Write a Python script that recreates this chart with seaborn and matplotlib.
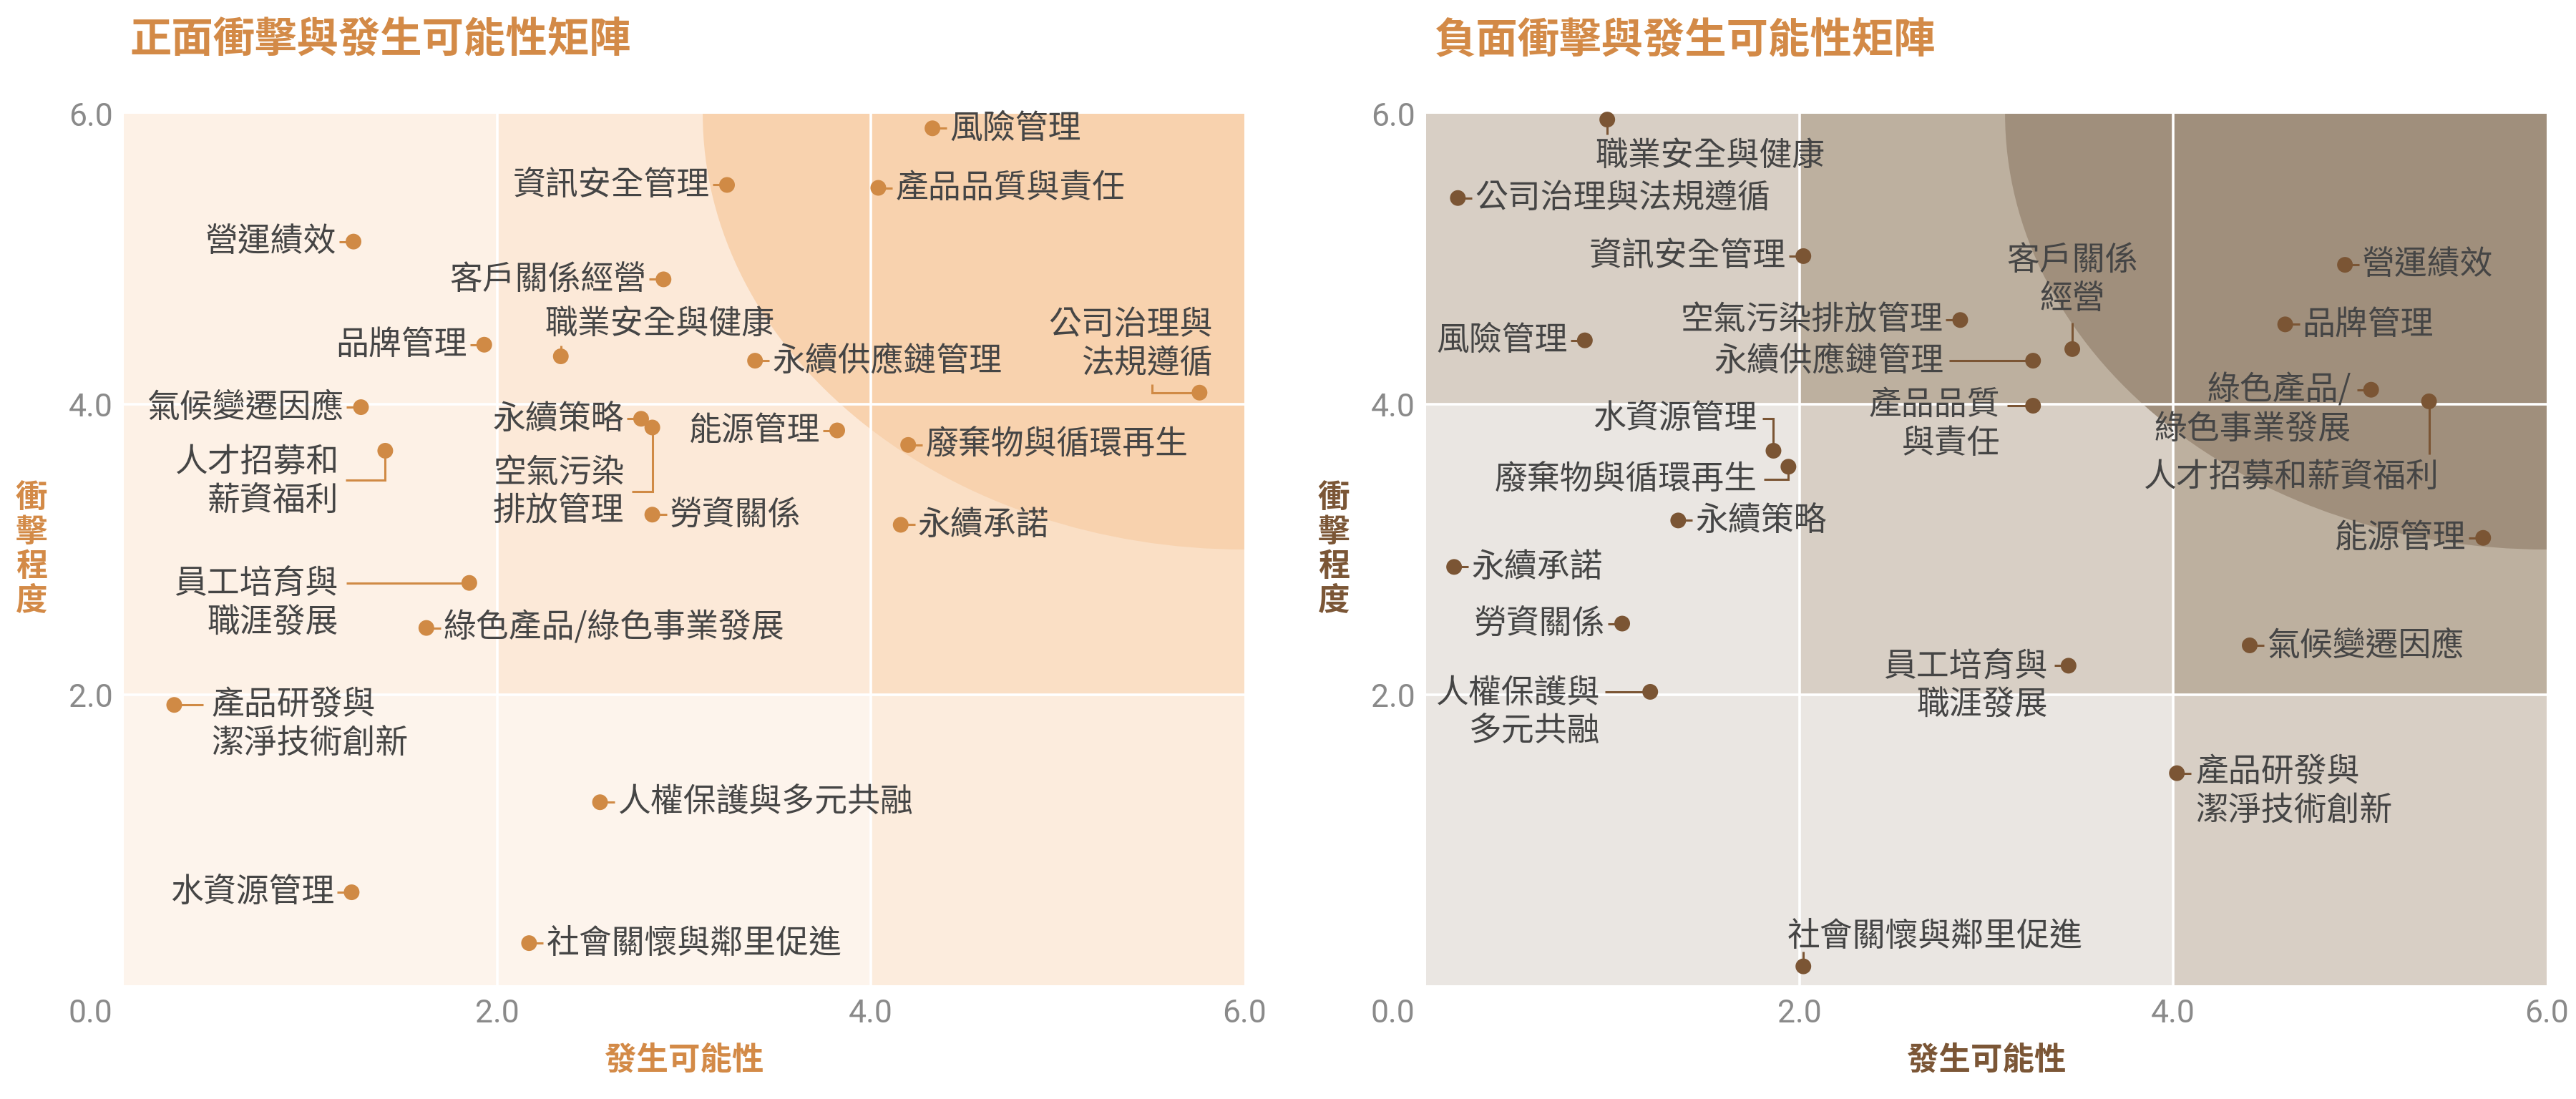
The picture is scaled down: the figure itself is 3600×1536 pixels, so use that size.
import matplotlib
matplotlib.use('Agg')
import matplotlib.pyplot as plt
from matplotlib.patches import Rectangle, Ellipse
import seaborn as sns
import pandas as pd

# ---- data: positive impact matrix ----
pos_topics = ['風險管理', '資訊安全管理', '產品品質與責任', '營運績效', '客戶關係經營',
              '職業安全與健康', '品牌管理', '永續供應鏈管理', '公司治理與法規遵循', '氣候變遷因應',
              '人才招募和薪資福利', '永續策略', '空氣污染排放管理', '能源管理', '廢棄物與循環再生',
              '勞資關係', '永續承諾', '員工培育與職涯發展', '綠色產品/綠色事業發展',
              '產品研發與潔淨技術創新', '人權保護與多元共融', '水資源管理', '社會關懷與鄰里促進']
pos_x = [4.33, 3.23, 4.04, 1.23, 2.89, 2.34, 1.93, 3.38, 5.76, 1.27, 1.40, 2.77, 2.83,
         3.82, 4.20, 2.83, 4.16, 1.85, 1.62, 0.27, 2.55, 1.22, 2.17]
pos_y = [5.90, 5.51, 5.49, 5.12, 4.86, 4.33, 4.41, 4.30, 4.08, 3.98, 3.68, 3.90, 3.84,
         3.82, 3.72, 3.24, 3.17, 2.77, 2.46, 1.93, 1.26, 0.64, 0.29]

# ---- data: negative impact matrix ----
neg_topics = ['職業安全與健康', '公司治理與法規遵循', '資訊安全管理', '客戶關係經營', '空氣污染排放管理',
              '永續供應鏈管理', '風險管理', '營運績效', '品牌管理', '綠色產品/綠色事業發展',
              '人才招募和薪資福利', '產品品質與責任', '水資源管理', '廢棄物與循環再生', '永續策略',
              '永續承諾', '勞資關係', '人權保護與多元共融', '能源管理', '氣候變遷因應',
              '員工培育與職涯發展', '產品研發與潔淨技術創新', '社會關懷與鄰里促進']
neg_x = [0.97, 0.17, 2.02, 3.46, 2.86, 3.25, 0.85, 4.92, 4.60, 5.06, 5.37, 3.25, 1.86,
         1.94, 1.35, 0.15, 1.05, 1.20, 5.66, 4.41, 3.44, 4.02, 2.02]
neg_y = [5.96, 5.42, 5.02, 4.38, 4.58, 4.30, 4.44, 4.96, 4.55, 4.10, 4.02, 3.99, 3.68,
         3.57, 3.20, 2.88, 2.49, 2.02, 3.08, 2.34, 2.20, 1.46, 0.13]

ticks = [2, 4, 6]
tick_labels = ['2.0', '4.0', '6.0']

# ---- label layout (offsets in pixels from the dot, y up) ----
pos_left = ['資訊安全管理', '營運績效', '客戶關係經營', '品牌管理', '氣候變遷因應', '永續策略', '能源管理', '水資源管理']
pos_layout = {
    '職業安全與健康': dict(ha='left', t=(-22, 45), path=[(0, 0), (0, 15)]),
    '公司治理與法規遵循': dict(ha='right', t=(18, 68), path=[(0, 0), (-66, 0), (-66, 12)], brk=5),
    '人才招募和薪資福利': dict(ha='right', t=(-65, -43), path=[(0, 0), (0, -41), (-55, -41)], brk=5),
    '空氣污染排放管理': dict(ha='right', t=(-39, -90), path=[(0, 0), (0, -90), (-29, -90)], brk=4),
    '員工培育與職涯發展': dict(ha='right', t=(-183, -28), path=[(0, 0), (-172, 0)], brk=5),
    '產品研發與潔淨技術創新': dict(ha='left', t=(52, -27), path=[(0, 0), (41, 0)], brk=5),
}
neg_left = ['資訊安全管理', '空氣污染排放管理', '風險管理', '勞資關係', '能源管理']
neg_layout = {
    '職業安全與健康': dict(ha='left', t=(-17, -50), path=[(0, 0), (0, -21)]),
    '客戶關係經營': dict(ha='center', t=(0, 97), path=[(0, 0), (0, 37)], brk=4),
    '永續供應鏈管理': dict(ha='right', t=(-125, 0), path=[(0, 0), (-117, 0)]),
    '綠色產品/綠色事業發展': dict(ha='right', t=(-28, -28), path=[(0, 0), (-20, 0)], brk=5),
    '人才招募和薪資福利': dict(ha='right', t=(13, -106), path=[(0, 0), (0, -74)]),
    '產品品質與責任': dict(ha='right', t=(-46, -26), path=[(0, 0), (-36, 0)], brk=4),
    '水資源管理': dict(ha='right', t=(-23, 45), path=[(0, 0), (0, 45), (-15, 45)]),
    '廢棄物與循環再生': dict(ha='right', t=(-44, -18), path=[(0, 0), (0, -18), (-34, -18)]),
    '人權保護與多元共融': dict(ha='right', t=(-71, -29), path=[(0, 0), (-63, 0)], brk=5),
    '員工培育與職涯發展': dict(ha='right', t=(-29, -28), path=[(0, 0), (-20, 0)], brk=5),
    '產品研發與潔淨技術創新': dict(ha='left', t=(26, -26), path=[(0, 0), (20, 0)], brk=5),
    '社會關懷與鄰里促進': dict(ha='left', t=(-22, 42), path=[(0, 0), (0, 21)]),
}

# zone colours [row y0-2, y2-4, y4-6][col x0-2, x2-4, x4-6]
pos_zones = [['#FDF4EC', '#FDF4EC', '#FCECDD'],
             ['#FDF1E6', '#FCE9D8', '#FADFC5'],
             ['#FDF1E6', '#FCE9D8', '#FADFC5']]
neg_zones = [['#EAE6E2', '#EAE6E2', '#D8CFC5'],
             ['#EAE6E2', '#D8CFC5', '#BDB09F'],
             ['#D8CFC5', '#BDB09F', '#BDB09F']]

sns.set_theme(style='white')
plt.rcParams['font.family'] = ['Noto Sans CJK TC', 'DejaVu Sans']

TITLE_C = '#D38A47'
TEXT_C = '#454545'
TICK_C = '#8A8A8A'

fig = plt.figure(figsize=(36, 15.36), dpi=100)


def shift(ax, x, y, dx, dy):
    p = ax.transData.transform((x, y))
    return ax.transData.inverted().transform((p[0] + dx, p[1] + dy))


def draw_matrix(rect, topics, xs, ys, zones, circle_c, dot_c, lab_c, left_set, layout, title, title_x):
    ax = fig.add_axes(rect)
    ax.set_xlim(0, 6)
    ax.set_ylim(0, 6)
    for j in range(3):
        for i in range(3):
            ax.add_patch(Rectangle((2 * i, 2 * j), 2, 2, facecolor=zones[j][i], lw=0, zorder=0))
    ax.add_patch(Ellipse((6, 6), 5.8, 6.0, facecolor=circle_c, lw=0, zorder=0.5))
    for v in [2, 4]:
        ax.axvline(v, color='white', lw=2.6, zorder=1)
        ax.axhline(v, color='white', lw=2.6, zorder=1)

    df = pd.DataFrame({'topic': topics, 'x': xs, 'y': ys})
    sns.scatterplot(data=df, x='x', y='y', color=dot_c, s=250, edgecolor='none',
                    zorder=3, ax=ax, legend=False, clip_on=False)

    for name, x, y in zip(topics, xs, ys):
        if name in layout:
            spec = layout[name]
        elif name in left_set:
            spec = dict(ha='right', t=(-24, 0), path=[(0, 0), (-20, 0)])
        else:
            spec = dict(ha='left', t=(24, 0), path=[(0, 0), (20, 0)])
        pts = [shift(ax, x, y, dx, dy) for dx, dy in spec['path']]
        ax.plot([p[0] for p in pts], [p[1] for p in pts], color=dot_c, lw=2.2,
                zorder=2, solid_capstyle='butt', solid_joinstyle='miter', clip_on=False)
        txt = name
        if 'brk' in spec:
            txt = name[:spec['brk']] + '\n' + name[spec['brk']:]
        tx, ty = shift(ax, x, y, *spec['t'])
        ax.text(tx, ty, txt, ha=spec['ha'], va='center', multialignment=spec['ha'],
                fontsize=33, color=TEXT_C, linespacing=1.15, zorder=4)

    for s in ax.spines.values():
        s.set_visible(False)
    ax.set_xticks(ticks)
    ax.set_yticks(ticks)
    ax.set_xticklabels(tick_labels, family='Roboto', fontsize=32, color=TICK_C)
    ax.set_yticklabels(tick_labels, family='Roboto', fontsize=32, color=TICK_C)
    ax.tick_params(axis='y', length=0, pad=11)
    ax.tick_params(axis='x', length=0, pad=14)
    ax.annotate('0.0', xy=(0, 0), xytext=(-11, -14), textcoords='offset points',
                ha='right', va='top', family='Roboto', fontsize=32, color=TICK_C,
                annotation_clip=False)

    ax.set_xlabel('發生可能性', fontsize=32, weight='bold', color=lab_c)
    ax.xaxis.set_label_coords(0.5, -0.0854)
    ax.xaxis.label.set_va('center')
    ax.set_ylabel('\n'.join('衝擊程度'), fontsize=32, weight='bold', color=lab_c,
                  rotation=0, linespacing=1.05)
    ax.yaxis.set_label_coords(-0.0824, 0.5)
    ax.yaxis.label.set_va('center')
    ax.yaxis.label.set_ha('center')

    fig.text(title_x, 1 - 57 / 1536, title, ha='left', va='center', fontsize=42,
             weight='bold', color=TITLE_C)
    return ax


draw_matrix([173 / 3600, 159 / 1536, 1566 / 3600, 1218 / 1536], pos_topics, pos_x, pos_y,
            pos_zones, '#F8D2AE', '#D08A45', TITLE_C, pos_left, pos_layout,
            '正面衝擊與發生可能性矩陣', 181 / 3600)
draw_matrix([1993 / 3600, 159 / 1536, 1566 / 3600, 1218 / 1536], neg_topics, neg_x, neg_y,
            neg_zones, '#A08F7C', '#7B5534', '#7B5636', neg_left, neg_layout,
            '負面衝擊與發生可能性矩陣', 2004 / 3600)

fig.savefig('out.png', dpi=100, facecolor='white')
